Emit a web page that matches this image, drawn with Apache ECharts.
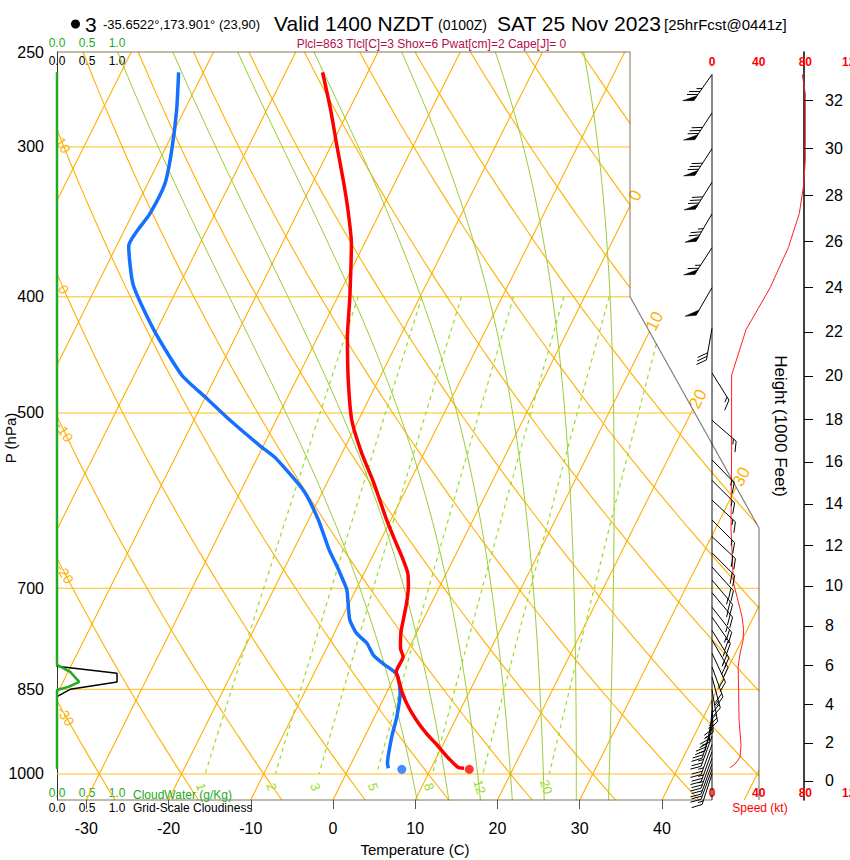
<!DOCTYPE html>
<html>
<head>
<meta charset="utf-8">
<script src="https://cdn.jsdelivr.net/npm/echarts@6/dist/echarts.min.js"></script>
<style>
html,body{margin:0;padding:0;background:#ffffff;}
#chart{width:850px;height:860px;}
</style>
</head>
<body>
<div id="chart"></div>
<script>
// ================= DATA =================
// Temperature profile (hPa, degC)
const tempP = [989,987,967,949,925,902,879,854,830,822,798,786,763,744,721,698,680,659,638,614,572,540,507,469,432,402,361,339,320,300,279,260];
const tempC = [14.0,13.2,11.2,9.6,7.3,5.3,3.5,1.8,0.4,-0.1,-0.2,-1.0,-1.9,-2.4,-3.0,-3.8,-4.7,-6.4,-8.3,-10.5,-14.3,-17.6,-20.8,-23.7,-26.4,-28.4,-31.6,-34.0,-36.4,-39.2,-42.3,-45.5];
// Dew point profile (hPa, degC)
const dewP = [989,980,931,896,857,830,822,809,796,778,763,744,721,702,685,667,650,614,581,545,533,507,486,465,426,391,363,341,322,302,279,260];
const dewC = [4.8,4.4,3.3,2.7,1.7,0.4,-0.3,-2.2,-3.9,-5.4,-7.3,-8.9,-10.1,-11.1,-12.5,-14.1,-15.7,-18.8,-22.3,-27.8,-30.3,-35.6,-39.8,-44.2,-50.4,-55.6,-58.5,-57.9,-57.9,-59.1,-61.0,-63.0];
// Surface (2 m) values
const sfcP = 991, sfcT = 14.7, sfcTd = 6.5;
// Winds (hPa, direction deg, speed kt)
const windP   = [261,281,301,321,341,364,393,425,463,507,547,569,591,614,634,654,672,689,706,726,740,759,773,793,814,830,851,868,885,900,915,930,945,958,970,981,991,1000];
const windDir = [215,213,213,212,210,213,210,190,148,131,136,135,133,135,133,135,138,140,140,142,145,148,150,155,160,165,170,178,185,192,198,200,200,200,200,200,200,198];
const windKt  = [77,80,80,78,75,65,50,28,17,17,16,16,16,17,18,20,21,23,24,26,26,25,24,22,22,23,23,23,23,24,24,24,25,25,24,22,18,15];
// Wind speed profile (hPa, kt)
const speedP  = [988,981,968,946,902,851,814,793,773,758,740,723,712,696,685,654,626,537,465,426,393,364,341,324,308,271,261];
const speedKt = [15.5,19.8,24.1,24.9,23.2,22.8,22.4,24.1,26.7,27.1,25.8,23.2,21.5,18.9,18.1,17.2,16.3,16.8,16.8,29.2,49.9,65.4,74.8,78.3,80.0,80.0,77.4];
// Cloud panel (hPa, g/kg and fraction)
const cloudP     = [260,811,822,838,846,851,990];
const cloudWater = [0,0,0.22,0.37,0.19,0,0];
const cloudP2    = [260,813,824,838,850,862,990];
const cloudiness = [0,0,1.0,1.0,0.22,0,0];
// Tick labels and reference-line sets
const tempTicks     = [-30,-20,-10,0,10,20,30,40];
const pressureTicks = [250,300,400,500,700,850,1000];
const isobarLevels  = [300,400,500,700,850,1000];
const heightTicks   = [0,2,4,6,8,10,12,14,16,18,20,22,24,26,28,30,32];
const speedTicks    = [0,40,80,120];
const cloudTicks    = [0,0.5,1];
const isotherms     = [-80,-70,-60,-50,-40,-30,-20,-10,0,10,20,30,40,50];
const dryAdiabats   = [-40,-30,-20,-10,0,10,20,30,40,50,60,70,80,90,100,110,120,130];
const thetaW        = [8,12,16,20,24,28,32];
const mixRatios     = [1,2,3,5,8,12,20];
const isothermLabelT = [0,10,20,30];
const adiabatLabelT  = [10,0,-10,-20,-30];
const titleTexts = ['3','-35.6522°,173.901° (23,90)','Valid 1400 NZDT','(0100Z)','SAT 25 Nov 2023','[25hrFcst@0441z]'];
const subtitleText = 'Plcl=863 Tlcl[C]=3 Shox=6 Pwat[cm]=2 Cape[J]= 0';

// ================= GEOMETRY =================
const FONT = "'Liberation Sans', Arial, Helvetica, sans-serif";
const LN = Math.log;
const PB = 1051.2;          // pressure of bottom edge
const PXC = 8.225;          // px per degC on the bottom axis
const SKEW = 0.5 * 520.8 / PXC;   // degC of skew per unit ln p
const XMIN = (57 - 333) / PXC, XMAX = (759 - 333) / PXC, XR_TOP = (630 - 333) / PXC, XBOT_END = (712 - 333) / PXC;
const P_CLIP_TOP = 400, P_DIAG = 623.6;
const YMIN = LN(250), YMAX = LN(PB);

const sx = (T, lnp) => T + SKEW * (YMAX - lnp);
function xRight(l) {
  if (l <= LN(P_CLIP_TOP)) return XR_TOP;
  if (l >= LN(P_DIAG)) return XMAX;
  return XR_TOP + (XMAX - XR_TOP) * (l - LN(P_CLIP_TOP)) / (LN(P_DIAG) - LN(P_CLIP_TOP));
}
const inside = pt => pt[0] <= xRight(pt[1]) + 1e-9;
function clipPoly(pts) {
  const segs = []; let cur = [];
  for (let i = 0; i < pts.length; i++) {
    const a = pts[i], ina = inside(a);
    if (i > 0) {
      const b = pts[i - 1], inb = inside(b);
      if (ina !== inb) {
        let lo = 0, hi = 1;
        for (let k = 0; k < 40; k++) {
          const m = (lo + hi) / 2;
          const q = [b[0] + (a[0] - b[0]) * m, b[1] + (a[1] - b[1]) * m];
          if (inside(q) === inb) lo = m; else hi = m;
        }
        const q = [b[0] + (a[0] - b[0]) * lo, b[1] + (a[1] - b[1]) * lo];
        if (inb) { cur.push(q); if (cur.length > 1) segs.push(cur); cur = []; }
        else { cur = [q]; }
      }
    }
    if (ina) cur.push(a);
  }
  if (cur.length > 1) segs.push(cur);
  return segs;
}
function lnSteps(p1, p2, n) { const a = LN(p1), b = LN(p2), o = []; for (let i = 0; i <= n; i++) o.push(a + (b - a) * i / n); return o; }
const dryT = (th, l) => (th + 273.15) * Math.pow(Math.exp(l) / 1000, 0.2857) - 273.15;
function tdFromE(e) { const g = LN(e / 6.112); return 243.5 * g / (17.67 - g); }
const mixTd = (w, l) => tdFromE(w * Math.exp(l) / (622 + w));

function moistAdiabat(thw) {
  const Rd = 287.04, Cp = 1005.7, Lv = 2.501e6, eps = 0.622;
  const f = (p, T) => { const Tc = T - 273.15; const es = 6.112 * Math.exp(17.67 * Tc / (Tc + 243.5)); const rs = eps * es / (p - es);
    return (Rd * T + Lv * rs) / (p * (Cp + Lv * Lv * rs * eps / (Rd * T * T))); };
  const integ = (dp, stop) => { const out = []; let p = 1000, T = thw + 273.15; out.push([p, T]);
    while ((dp < 0 && p > stop) || (dp > 0 && p < stop)) {
      const k1 = f(p, T), k2 = f(p + dp / 2, T + dp / 2 * k1), k3 = f(p + dp / 2, T + dp / 2 * k2), k4 = f(p + dp, T + dp * k3);
      T += dp / 6 * (k1 + 2 * k2 + 2 * k3 + k4); p += dp; out.push([p, T]); }
    return out; };
  const up = integ(-2, 250), dn = integ(2, PB + 2);
  const all = dn.reverse().concat(up.slice(1));
  return all.filter((d, i) => i % 3 === 0).map(d => [sx(d[1] - 273.15, LN(d[0])), LN(d[0])]);
}

function toLines(list) { const out = []; list.forEach(pts => clipPoly(pts).forEach(s => out.push({ coords: s }))); return out; }

const isobarLines = toLines(isobarLevels.map(p => [[XMIN, LN(p)], [xRight(LN(p)), LN(p)]]));
const isothermLines = toLines(isotherms.map(T => lnSteps(250, PB, 60).map(l => [sx(T, l), l])));
const dryLines = toLines(dryAdiabats.map(th => lnSteps(250, PB, 120).map(l => [sx(dryT(th, l), l), l])));
const moistLines = toLines(thetaW.map(moistAdiabat));
const mixLines = toLines(mixRatios.map(w => lnSteps(400, 1000, 60).map(l => [sx(mixTd(w, l), l), l])));

function bisect(g, a, b) { let ga = g(a); for (let k = 0; k < 60; k++) { const m = (a + b) / 2, gm = g(m); if ((gm > 0) === (ga > 0)) { a = m; ga = gm; } else b = m; } return (a + b) / 2; }
const isoLabelPts = isothermLabelT.map(T => { const l = bisect(l => sx(T, l) - xRight(l), YMIN, YMAX) - 0.02; return [sx(T, l), l]; });
const adLabelPts = adiabatLabelT.map(th => { const l = bisect(l => sx(dryT(th, l), l) - XMIN, YMIN, YMAX) + 0.03; return [sx(dryT(th, l), l), l]; });
const mixLabelPts = mixRatios.map(w => { const l = LN(1025); return [sx(mixTd(w, l), l), l]; });

const tempLine = tempP.map((p, i) => [sx(tempC[i], LN(p)), LN(p)]);
const dewLine = dewP.map((p, i) => [sx(dewC[i], LN(p)), LN(p)]);

const heightLnp = heightTicks.map(h => LN(1013.25 * Math.pow(1 - 2.25577e-5 * h * 304.8, 5.25588)));

// ================= SERIES HELPERS =================
const ORANGE = '#FFB000', GREEN = '#99CC33', MIXG = '#99DD22';
function bg(data, color, width, dash, z) {
  return { type: 'lines', coordinateSystem: 'cartesian2d', xAxisIndex: 0, yAxisIndex: 0, polyline: true, silent: true, clip: true, z: z || 1,
    lineStyle: { color: color, width: width, type: dash || 'solid', opacity: 1 }, data: data };
}
function textSeries(pts, texts, rots, color, size) {
  return { type: 'custom', coordinateSystem: 'cartesian2d', xAxisIndex: 0, yAxisIndex: 0, silent: true, z: 4, clip: false,
    data: pts, encode: { x: 0, y: 1 },
    renderItem: (params, api) => { const c = api.coord([api.value(0), api.value(1)]); const i = params.dataIndex;
      return { type: 'text', x: c[0], y: c[1], rotation: rots[i] * Math.PI / 180,
        style: { text: String(texts[i]), fill: color, fontSize: size, fontFamily: FONT, align: 'center', verticalAlign: 'middle', textAlign: 'center', textVerticalAlign: 'middle' } }; } };
}
function renderBarb(params, api) {
  const b = api.coord([0, api.value(1)]);
  const dir = api.value(2) * Math.PI / 180, spd = api.value(3);
  const s = [Math.sin(dir), -Math.cos(dir)];
  const L = 32, FL = 11, SP = 3.6;
  const tip = [b[0] + s[0] * L, b[1] + s[1] * L];
  const n = [-s[1], s[0]];
  const a = 35 * Math.PI / 180;
  const f = [n[0] * Math.cos(a) + s[0] * Math.sin(a), n[1] * Math.cos(a) + s[1] * Math.sin(a)];
  const st = { stroke: '#000', lineWidth: 1 };
  const ch = [{ type: 'line', shape: { x1: b[0], y1: b[1], x2: tip[0], y2: tip[1] }, style: st }];
  let v = Math.round(spd / 5) * 5;
  let pos = 0;
  const at = d => [tip[0] - s[0] * d, tip[1] - s[1] * d];
  while (v >= 50) { const p0 = at(pos), p1 = at(pos + 6);
    ch.push({ type: 'polygon', shape: { points: [p0, p1, [p0[0] + f[0] * FL, p0[1] + f[1] * FL]] }, style: { fill: '#000', stroke: '#000', lineWidth: 0.5 } });
    pos += 7.5; v -= 50; }
  while (v >= 10) { const p0 = at(pos);
    ch.push({ type: 'line', shape: { x1: p0[0], y1: p0[1], x2: p0[0] + f[0] * FL, y2: p0[1] + f[1] * FL }, style: st });
    pos += SP; v -= 10; }
  if (v >= 5) { if (pos === 0) pos = SP; const p0 = at(pos);
    ch.push({ type: 'line', shape: { x1: p0[0], y1: p0[1], x2: p0[0] + f[0] * FL / 2, y2: p0[1] + f[1] * FL / 2 }, style: st }); }
  return { type: 'group', children: ch };
}
function txt(text, x, y, size, opts) {
  opts = opts || {};
  return { type: 'text', x: x, y: y, rotation: opts.rot || 0, silent: true, z: 10,
    style: { text: text, fill: opts.color || '#000', fontSize: size, fontFamily: FONT, fontWeight: opts.weight || 'normal',
      align: opts.align || 'left', verticalAlign: 'middle', textAlign: opts.align || 'left', textVerticalAlign: 'middle' } };
}
const cloudAxis = (pos, color, insideLbl, margin) => ({ gridIndex: 1, type: 'value', min: 0, max: 1, position: pos,
  axisLine: { show: false }, axisTick: { show: false }, splitLine: { show: false },
  axisLabel: { customValues: cloudTicks, inside: insideLbl, margin: margin, color: color, fontSize: 12, fontFamily: FONT, formatter: v => v.toFixed(1) } });
const speedAxis = (pos, margin) => ({ gridIndex: 2, type: 'value', min: 0, max: 120, position: pos,
  axisLine: { show: false }, axisTick: { show: false }, splitLine: { show: false },
  axisLabel: { customValues: speedTicks, inside: true, margin: margin, color: '#FF0000', fontSize: 12, fontWeight: 'bold', fontFamily: FONT } });
const lnpAxis = (gi, extra) => Object.assign({ gridIndex: gi, type: 'value', min: YMIN, max: YMAX, inverse: true,
  axisLine: { show: false }, axisTick: { show: false }, axisLabel: { show: false }, splitLine: { show: false } }, extra || {});
const gridBase = { outerBoundsMode: 'none', containLabel: false, top: 52, bottom: 60 };

const option = {
  animation: false,
  backgroundColor: '#ffffff',
  textStyle: { fontFamily: FONT },
  grid: [
    Object.assign({ left: 57, width: 702 }, gridBase),
    Object.assign({ left: 57, width: 60 }, gridBase),
    Object.assign({ left: 712, width: 140 }, gridBase),
    Object.assign({ left: 804, width: 1 }, gridBase)
  ],
  xAxis: [
    { gridIndex: 0, type: 'value', min: XMIN, max: XMAX,
      axisLine: { show: false }, splitLine: { show: false },
      axisTick: { show: true, customValues: tempTicks, length: 9, lineStyle: { color: '#555', width: 1 } },
      axisLabel: { customValues: tempTicks, margin: 20, fontSize: 16, color: '#000', fontFamily: FONT } },
    cloudAxis('top', '#22AA22', false, 3),
    cloudAxis('top', '#000', true, 3),
    cloudAxis('bottom', '#22AA22', true, 1),
    cloudAxis('bottom', '#000', false, 2),
    speedAxis('top', 4),
    speedAxis('bottom', 1),
    { gridIndex: 3, type: 'value', min: 0, max: 1, show: false }
  ],
  yAxis: [
    lnpAxis(0, { axisLine: { show: true, onZero: false, lineStyle: { color: '#333', width: 1 } },
      axisLabel: { show: true, customValues: pressureTicks.map(p => LN(p)), margin: 13, fontSize: 16, color: '#000', fontFamily: FONT,
        formatter: v => String(Math.round(Math.exp(v))) } }),
    lnpAxis(1),
    lnpAxis(2),
    lnpAxis(3, { position: 'left', axisLine: { show: true, onZero: false, lineStyle: { color: '#000', width: 1.5 } },
      axisTick: { show: true, customValues: heightLnp, inside: true, length: 9, lineStyle: { color: '#000', width: 1 } },
      axisLabel: { show: true, customValues: heightLnp, inside: true, margin: 21, fontSize: 16, color: '#000', fontFamily: FONT,
        formatter: v => { const p = Math.exp(v); const m = (1 - Math.pow(p / 1013.25, 1 / 5.25588)) / 2.25577e-5; return String(Math.round(m / 304.8)); } } })
  ],
  series: [
    bg(isobarLines, '#FFC020', 1),
    bg(isothermLines, ORANGE, 1.1),
    bg(dryLines, ORANGE, 1.1),
    bg(moistLines, GREEN, 1),
    bg(mixLines, MIXG, 1.2, [4, 4]),
    textSeries(isoLabelPts, isothermLabelT, isothermLabelT.map(() => 63), ORANGE, 17),
    textSeries(adLabelPts, adiabatLabelT, adiabatLabelT.map(() => -58), ORANGE, 14),
    textSeries(mixLabelPts, mixRatios, mixRatios.map(() => -72), MIXG, 13),
    { type: 'lines', coordinateSystem: 'cartesian2d', xAxisIndex: 0, yAxisIndex: 0, polyline: true, silent: true, clip: false, z: 6,
      lineStyle: { color: '#5C4A1C', width: 1.5 },
      data: [{ coords: [[XMIN, YMIN], [XR_TOP, YMIN], [XR_TOP, LN(P_CLIP_TOP)]] }, { coords: [[XMIN, YMAX], [XBOT_END, YMAX]] }] },
    { type: 'lines', coordinateSystem: 'cartesian2d', xAxisIndex: 0, yAxisIndex: 0, polyline: true, silent: true, clip: false, z: 6,
      lineStyle: { color: '#000', width: 1.2 },
      data: [{ coords: [[XR_TOP, LN(P_CLIP_TOP)], [XMAX, LN(P_DIAG)], [XMAX, YMAX]] }] },
    { type: 'line', xAxisIndex: 0, yAxisIndex: 0, data: dewLine, symbol: 'none', smooth: 0.2, clip: false, z: 5,
      lineStyle: { color: '#1570FF', width: 3.5 } },
    { type: 'line', xAxisIndex: 0, yAxisIndex: 0, data: tempLine, symbol: 'none', smooth: 0.2, clip: false, z: 5,
      lineStyle: { color: '#FF0000', width: 3.5 } },
    { type: 'scatter', xAxisIndex: 0, yAxisIndex: 0, symbolSize: 9, z: 5, silent: true,
      data: [{ value: [sx(sfcTd, LN(sfcP)), LN(sfcP)], itemStyle: { color: '#1570FF' } }, { value: [sx(sfcT, LN(sfcP)), LN(sfcP)], itemStyle: { color: '#FF0000' } }] },
    { type: 'line', xAxisIndex: 1, yAxisIndex: 1, data: cloudP2.map((p, i) => [cloudiness[i], LN(p)]), symbol: 'none', clip: false, z: 5,
      lineStyle: { color: '#000', width: 1.5 } },
    { type: 'line', xAxisIndex: 1, yAxisIndex: 1, data: cloudP.map((p, i) => [cloudWater[i], LN(p)]), symbol: 'none', clip: false, z: 6,
      lineStyle: { color: '#22AA22', width: 2.5 } },
    { type: 'line', xAxisIndex: 5, yAxisIndex: 2, data: [[0, LN(windP[0])], [0, YMAX]], symbol: 'none', clip: false, z: 5, silent: true,
      lineStyle: { color: '#111', width: 1 } },
    { type: 'line', xAxisIndex: 5, yAxisIndex: 2, data: speedP.map((p, i) => [speedKt[i], LN(p)]), symbol: 'none', clip: false, z: 5,
      lineStyle: { color: '#FF2020', width: 1 } },
    { type: 'custom', coordinateSystem: 'cartesian2d', xAxisIndex: 5, yAxisIndex: 2, clip: false, silent: true, z: 7,
      data: windP.map((p, i) => [0, LN(p), windDir[i], windKt[i]]), encode: { x: 0, y: 1 }, renderItem: renderBarb }
  ],
  graphic: [
    { type: 'circle', shape: { cx: 75.5, cy: 24, r: 4.5 }, style: { fill: '#000' }, silent: true },
    txt(titleTexts[0], 85, 24, 21),
    txt(titleTexts[1], 103, 24, 13),
    txt(titleTexts[2], 274, 23, 21),
    txt(titleTexts[3], 438, 25, 14),
    txt(titleTexts[4], 497, 23, 21),
    txt(titleTexts[5], 664, 24, 15),
    txt(subtitleText, 431.5, 44, 12, { color: '#B0104E', align: 'center' }),
    txt('CloudWater (g/Kg)', 133, 795, 12, { color: '#22AA22' }),
    txt('Grid-Scale Cloudiness', 133, 808, 12),
    txt('Speed (kt)', 760, 808, 12, { color: '#FF0000', align: 'center' }),
    txt('Temperature (C)', 415, 849, 15, { align: 'center' }),
    txt('P (hPa)', 10, 438, 15, { align: 'center', rot: Math.PI / 2 }),
    txt('Height (1000 Feet)', 780, 426, 17, { align: 'center', rot: -Math.PI / 2 })
  ]
};

const chart = echarts.init(document.getElementById('chart'), null, { renderer: 'svg', width: 850, height: 860 });
chart.setOption(option);
</script>
</body>
</html>
